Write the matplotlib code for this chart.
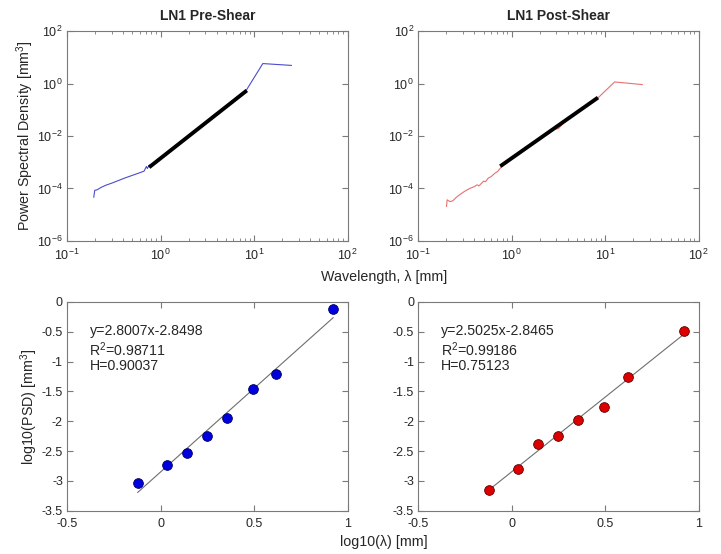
import numpy as np
import matplotlib
matplotlib.use('Agg')
import matplotlib.pyplot as plt
from matplotlib.ticker import LogLocator, NullLocator, FixedLocator

plt.rcParams['font.family'] = ['Liberation Sans', 'DejaVu Sans']
plt.rcParams['mathtext.fontset'] = 'custom'
plt.rcParams['mathtext.rm'] = 'Liberation Sans'
plt.rcParams['mathtext.it'] = 'Liberation Sans:italic'
plt.rcParams['axes.unicode_minus'] = False

# PSD curves (log10 of wavelength, log10 of PSD)
pre_logx = [-0.714, -0.704, -0.678, -0.642, -0.589, -0.517, -0.446, -0.374, -0.302,
            -0.231, -0.177, -0.151, -0.141, -0.123, -0.10, -0.05, 0.00, 0.05, 0.10,
            0.15, 0.20, 0.25, 0.30, 0.35, 0.40, 0.45, 0.50, 0.55, 0.60, 0.65, 0.70,
            0.75, 0.80, 0.85, 0.92, 1.094, 1.399]
pre_logy = [-4.33, -4.07, -4.05, -3.97, -3.88, -3.79, -3.69, -3.59, -3.50,
            -3.41, -3.34, -3.16, -3.24, -3.12, -3.10, -2.98, -2.86, -2.72, -2.60,
            -2.45, -2.27, -2.16, -2.02, -1.88, -1.72, -1.58, -1.44, -1.26, -1.12,
            -1.04, -0.90, -0.72, -0.58, -0.42, -0.24, 0.76, 0.69]

post_logx = [-0.697, -0.690, -0.66, -0.63, -0.59, -0.55, -0.50, -0.45, -0.40, -0.37,
             -0.35, -0.30, -0.28, -0.25, -0.22, -0.18, -0.15, -0.12, -0.10, -0.05,
             0.00, 0.05, 0.10, 0.15, 0.20, 0.25, 0.30, 0.35, 0.40, 0.45, 0.50, 0.55,
             0.60, 0.65, 0.70, 0.75, 0.80, 0.85, 0.923, 1.101, 1.397]
post_logy = [-4.68, -4.43, -4.50, -4.47, -4.33, -4.22, -4.10, -4.00, -3.93, -3.86,
             -3.90, -3.72, -3.74, -3.60, -3.55, -3.42, -3.35, -3.22, -3.08, -2.95,
             -2.83, -2.70, -2.57, -2.42, -2.35, -2.22, -2.11, -2.00, -1.90, -1.74,
             -1.72, -1.52, -1.32, -1.22, -1.08, -0.95, -0.83, -0.70, -0.55, 0.06, -0.04]

# binned points for the lower panels
bin_logx = [-0.122, 0.035, 0.142, 0.250, 0.356, 0.495, 0.620, 0.921]
pre_bin = [-3.026, -2.741, -2.535, -2.245, -1.937, -1.463, -1.200, -0.117]
post_bin = [-3.144, -2.798, -2.384, -2.250, -1.982, -1.753, -1.256, -0.486]

# fits shown in the panels: slope, intercept, R^2, H
pre_fit = (2.8007, -2.8498, 0.98711, 0.90037)
post_fit = (2.5025, -2.8465, 0.99186, 0.75123)
fit_range = [-0.122, 0.923]

titles = ['LN1 Pre-Shear', 'LN1 Post-Shear']
line_colors = ['#4b4bd0', '#e87070']
dot_colors = ['#0000dd', '#dd0000']
dot_edges = ['#000060', '#600000']

spine_col = '#7a7a7a'
text_col = '#262626'
fs = 9

fig = plt.figure(figsize=(7.21, 5.54), dpi=100)
lefts = [0.093, 0.580]
w = 0.389
top_axes = [fig.add_axes([l, 0.565, w, 0.379]) for l in lefts]
bot_axes = [fig.add_axes([l, 0.078, w, 0.377]) for l in lefts]


def style(ax):
    for s in ax.spines.values():
        s.set_color(spine_col)
        s.set_linewidth(0.8)
    ax.tick_params(which='both', direction='in', top=True, right=True,
                   colors=spine_col, labelcolor=text_col, labelsize=fs)
    ax.tick_params(which='major', length=4)
    ax.tick_params(which='minor', length=2)
    ax.tick_params(axis='x', pad=5)
    ax.tick_params(axis='y', pad=3)


curves = [(pre_logx, pre_logy), (post_logx, post_logy)]
fits = [pre_fit, post_fit]
bins = [pre_bin, post_bin]

for i, ax in enumerate(top_axes):
    lx, ly = curves[i]
    ax.loglog(10 ** np.array(lx), 10 ** np.array(ly), color=line_colors[i], lw=0.8)
    fx = np.array(fit_range)
    ax.loglog(10 ** fx, 10 ** (fits[i][0] * fx + fits[i][1]), color='black', lw=2.8,
              solid_capstyle='butt')
    ax.set_xlim(0.1, 100)
    ax.set_ylim(1e-6, 1e2)
    ax.yaxis.set_major_locator(FixedLocator([1e-6, 1e-4, 1e-2, 1e0, 1e2]))
    ax.yaxis.set_minor_locator(NullLocator())
    ax.xaxis.set_minor_locator(LogLocator(base=10, subs=np.arange(2, 10)))
    ax.set_title(titles[i], fontsize=10, fontweight='bold', color=text_col, pad=8)
    style(ax)

top_axes[0].set_ylabel('Power Spectral Density [mm$^3$]', fontsize=10.3, color=text_col)
top_axes[0].yaxis.set_label_coords(-0.11, 0.5)

for i, ax in enumerate(bot_axes):
    m, b, r2, h = fits[i]
    fx = np.array(fit_range)
    ax.plot(fx, m * fx + b, color='#6e6e6e', lw=0.8)
    ax.plot(bin_logx, bins[i], 'o', ms=7, mfc=dot_colors[i], mec=dot_edges[i], mew=0.6)
    ax.set_xlim(-0.5, 1)
    ax.set_ylim(-3.5, 0)
    ax.set_xticks([-0.5, 0, 0.5, 1])
    ax.set_xticklabels(['-0.5', '0', '0.5', '1'])
    ax.set_yticks([0, -0.5, -1, -1.5, -2, -2.5, -3, -3.5])
    ax.set_yticklabels(['0', '-0.5', '-1', '-1.5', '-2', '-2.5', '-3', '-3.5'])
    ax.text(-0.38, -0.49, 'y=%.4fx%.4f' % (m, b), fontsize=10.2, color=text_col, va='center')
    ax.text(-0.38, -0.80, 'R$^2$=%.5f' % r2, fontsize=10.2, color=text_col, va='center')
    ax.text(-0.38, -1.08, 'H=%.5f' % h, fontsize=10.2, color=text_col, va='center')
    style(ax)

bot_axes[0].set_ylabel('log10(PSD) [mm$^3$]', fontsize=10.3, color=text_col)
bot_axes[0].yaxis.set_label_coords(-0.095, 0.5)

fig.text(0.533, 0.500, 'Wavelength, λ [mm]', ha='center', va='center', fontsize=10.3,
         color=text_col)
fig.text(0.533, 0.022, 'log10(λ) [mm]', ha='center', va='center', fontsize=10.3,
         color=text_col)

fig.savefig('out.png', dpi=100)
